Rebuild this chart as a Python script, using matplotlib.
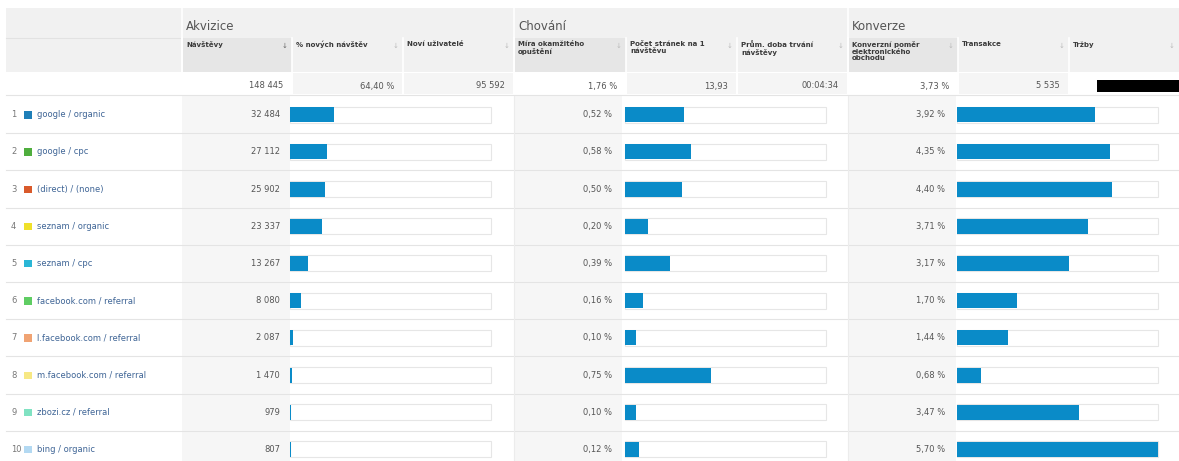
import matplotlib.pyplot as plt
from matplotlib.patches import Rectangle

# data
sources = ["google / organic", "google / cpc", "(direct) / (none)", "seznam / organic",
           "seznam / cpc", "facebook.com / referral", "l.facebook.com / referral",
           "m.facebook.com / referral", "zbozi.cz / referral", "bing / organic"]
legend_colors = ["#1f7fb8", "#4fae3e", "#d95a2b", "#efe02a", "#2ab6d6",
                 "#5fcd63", "#f0a373", "#f7e884", "#80e2c2", "#b3d9f2"]
visits = [32484, 27112, 25902, 23337, 13267, 8080, 2087, 1470, 979, 807]
bounce = [0.52, 0.58, 0.50, 0.20, 0.39, 0.16, 0.10, 0.75, 0.10, 0.12]
conversion = [3.92, 4.35, 4.40, 3.71, 3.17, 1.70, 1.44, 0.68, 3.47, 5.70]

groups = ["Akvizice", "Chování", "Konverze"]
columns = ["Návštěvy", "% nových návštěv", "Noví uživatelé",
           "Míra okamžitého\nopuštění", "Počet stránek na 1\nnávštěvu", "Prům. doba trvání\nnávštěvy",
           "Konverzní poměr\nelektronického\nobchodu", "Transakce", "Tržby"]
totals = ["148 445", "64,40 %", "95 592", "1,76 %", "13,93", "00:04:34", "3,73 %", "5 535"]
total_visits = 148445
total_bounce = 1.76


def fmt_int(v):
    return f"{v:,}".replace(",", " ")


def fmt_pct(v):
    return f"{v:.2f} %".replace(".", ",")


fig = plt.figure(figsize=(11.79, 4.61), dpi=100)
ax = fig.add_axes([0, 0, 1, 1])
ax.set_xlim(0, 1179)
ax.set_ylim(461, 0)
ax.axis("off")

col_x = [182, 292, 403, 514, 626, 737, 848, 958, 1069, 1179]
left = 6
grey = "#f1f1f1"
dark = "#e6e6e6"
line = "#e4e4e4"
txt = "#555555"

# header bands
ax.add_patch(Rectangle((left, 8), 1179 - left, 64, color=grey, lw=0))
ax.plot([left, 182], [38, 38], color="#e2e2e2", lw=0.8)
for g, x0 in enumerate([182, 514, 848]):
    ax.plot([x0, x0], [8, 72], color="white", lw=1.2)
    ax.text(x0 + 4, 27, groups[g], fontsize=8.5, color="#555555", va="center")
for i, name in enumerate(columns):
    x0, x1 = col_x[i], col_x[i + 1]
    first = i % 3 == 0
    ax.add_patch(Rectangle((x0, 38), x1 - x0, 34, color=dark if first else grey, lw=0))
    ax.plot([x0, x0], [38, 72], color="white", lw=1.2)
    ax.text(x0 + 4, 41, name, fontsize=5, color="#3a3a3a", va="top", fontweight="bold", linespacing=1.15)
    ax.text(x1 - 7, 46, "↓", fontsize=5, color="#666666" if i == 0 else "#bbbbbb", ha="center", va="center")

# totals row
ax.add_patch(Rectangle((left, 72), 1179 - left, 23, color="white", lw=0))
for i, val in enumerate(totals):
    x0, x1 = col_x[i], col_x[i + 1]
    if i % 3 != 0:
        ax.add_patch(Rectangle((x0 + 1, 73), x1 - x0 - 2, 21, color="#f5f5f5", lw=0))
    ax.text(x1 - 9, 86, val, fontsize=6, color=txt, ha="right", va="center")
ax.add_patch(Rectangle((1097, 80), 82, 12, color="black", lw=0))
ax.plot([left, 1179], [95, 95], color=line, lw=0.8)

# data rows
row_h = 37.2
top = 96
n = len(sources)
centers = [top + row_h * (k + 0.5) for k in range(n)]
for k in range(n):
    y0 = top + row_h * k
    for x0 in [182, 514, 848]:
        ax.add_patch(Rectangle((x0, y0), 108, row_h, color="#f6f6f6", lw=0))
    ax.plot([left, 1179], [y0 + row_h, y0 + row_h], color=line, lw=0.8)
for x0 in [514, 848]:
    ax.plot([x0, x0], [96, 461], color="#ececec", lw=0.8)

track_w = 201
bar_h = 15
bar_color = "#0a8bc8"
specs = [
    (290, 280, [v / total_visits for v in visits], [fmt_int(v) for v in visits]),
    (625, 612, [v / total_bounce for v in bounce], [fmt_pct(v) for v in bounce]),
    (957, 945, [v / max(conversion) for v in conversion], [fmt_pct(v) for v in conversion]),
]
for bar_left, val_x, shares, labels in specs:
    ax.barh(centers, [track_w] * n, left=bar_left, height=bar_h + 1,
            color="white", edgecolor="#e6e6e6", lw=0.8)
    ax.barh(centers, [s * track_w for s in shares], left=bar_left, height=bar_h,
            color=bar_color, lw=0)
    for yc, lab in zip(centers, labels):
        ax.text(val_x, yc, lab, fontsize=6, color=txt, ha="right", va="center")

for k, (src, c) in enumerate(zip(sources, legend_colors)):
    yc = centers[k]
    ax.text(11, yc, str(k + 1), fontsize=6, color="#777777", va="center")
    ax.add_patch(Rectangle((24, yc - 3.5), 7.5, 7.5, color=c, lw=0))
    ax.text(37, yc, src, fontsize=6, color="#3f6596", va="center")

fig.savefig("out.png", dpi=100)
